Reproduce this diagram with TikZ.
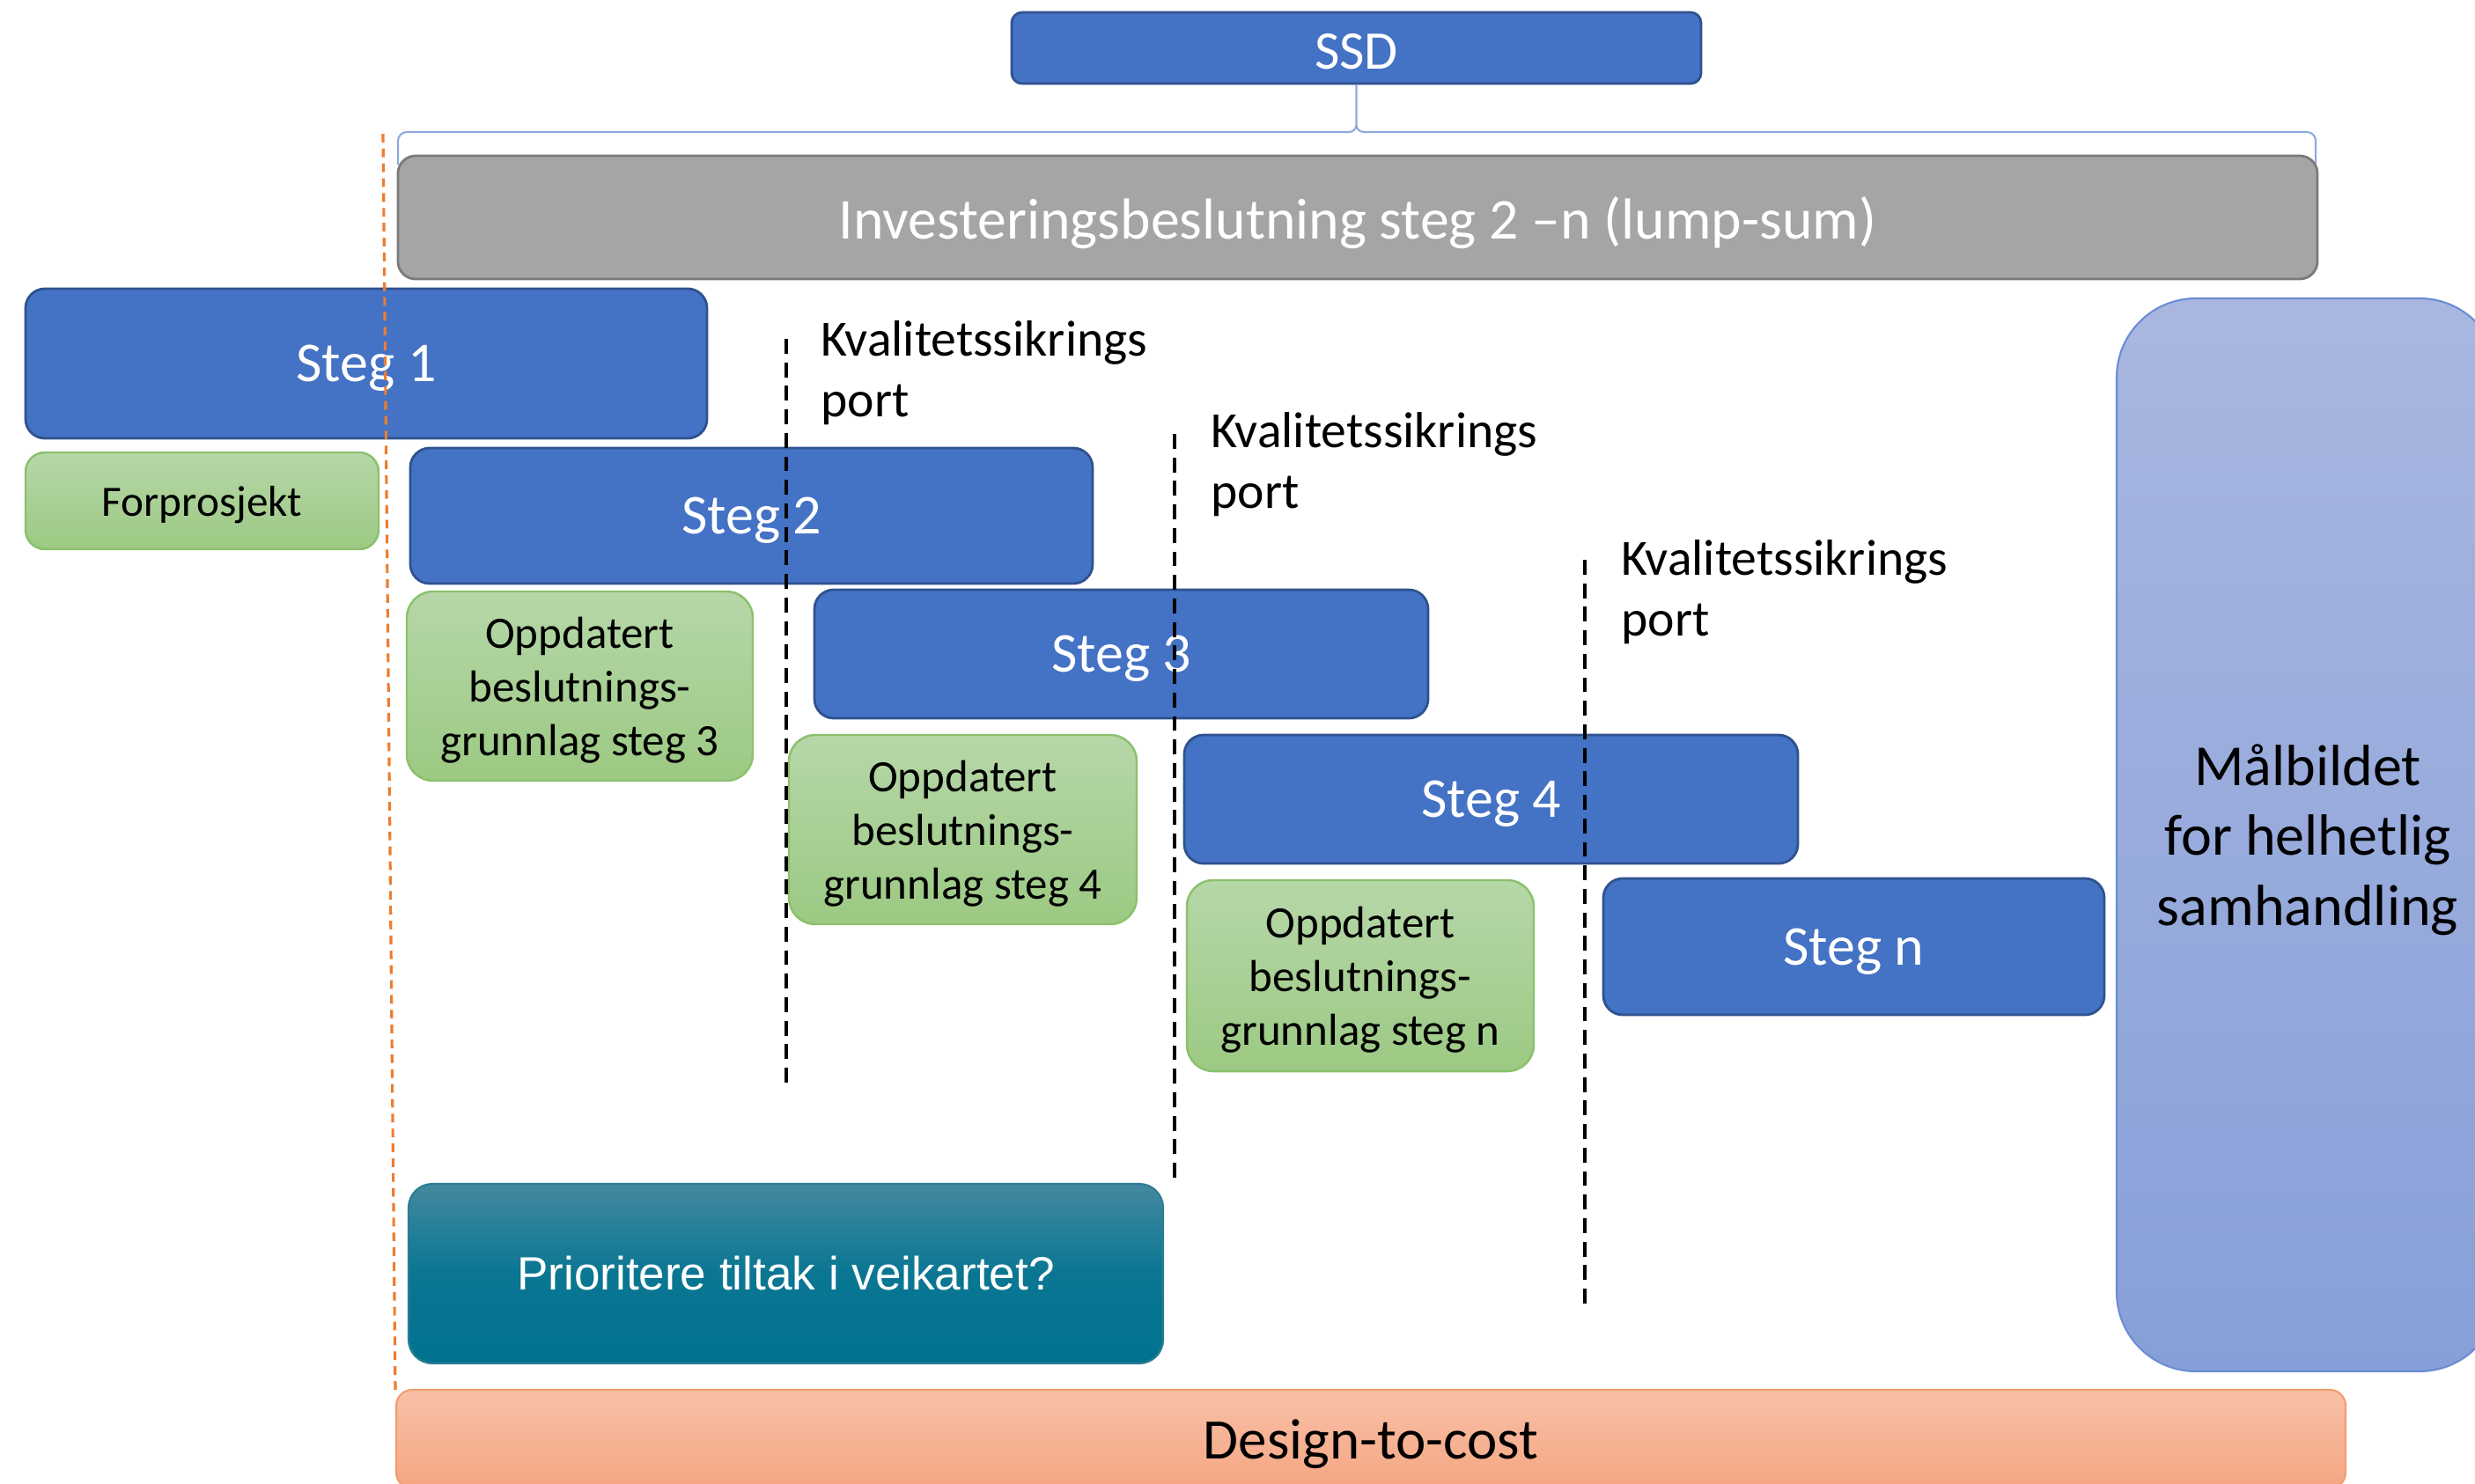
\documentclass[tikz,border=0pt]{standalone}
\usepackage{fontspec}
\setmainfont{Carlito}
\newfontfamily\arialfont{Liberation Sans}
\definecolor{stegblue}{HTML}{4472C4}
\definecolor{stegedge}{HTML}{2F528F}
\definecolor{greyfill}{HTML}{A5A5A5}
\definecolor{greyedge}{HTML}{7A7A7A}
\definecolor{greentop}{HTML}{B6D7A8}
\definecolor{greenbot}{HTML}{9CC983}
\definecolor{greenedge}{HTML}{8BC16C}
\definecolor{maltop}{HTML}{A9B7E0}
\definecolor{malbot}{HTML}{879FD8}
\definecolor{maledge}{HTML}{6A8DD2}
\definecolor{tealtop}{HTML}{43899F}
\definecolor{tealbot}{HTML}{007390}
\definecolor{tealedge}{HTML}{2C7C93}
\definecolor{costtop}{HTML}{F8C0A7}
\definecolor{costbot}{HTML}{F5A682}
\definecolor{costedge}{HTML}{F19D6E}
\definecolor{bracecol}{HTML}{8FAADC}
\definecolor{orangeline}{HTML}{ED7D31}
\begin{document}
\begin{tikzpicture}[
  stegbox/.style={draw=stegedge, fill=stegblue, line width=0.8pt,
    rounded corners=0.22cm, text=white, inner sep=0pt, text depth=0pt,
    font=\fontsize{18.2}{22}\selectfont},
  greenbox/.style={draw=greenedge, top color=greentop, bottom color=greenbot,
    line width=0.7pt, rounded corners=0.3cm, align=center, inner sep=0pt,
    text depth=0pt, font=\fontsize{14.5}{17.4}\selectfont},
  portlabel/.style={anchor=west, align=left, inner sep=0pt, text depth=0pt,
    font=\fontsize{16.4}{19.9}\selectfont},
  portline/.style={black, line width=1pt, dash pattern=on 4.8pt off 2.8pt},
  bracepath/.style={draw=bracecol, line width=0.6pt},
]
\useasboundingbox (0,0) rectangle (28.11,-16.85);

% Top decision boxes
\node[stegbox, minimum width=7.83cm, minimum height=0.81cm, rounded corners=0.12cm,
  text height=13.5pt, font=\fontsize{17.6}{21}\selectfont] (ssd) at (15.405,-0.545) {SSD};

\coordinate (brL) at (4.52,-1.87);
\coordinate (brR) at (26.30,-1.87);
\draw[bracepath] (brL) -- (4.52,-1.60) to[out=90,in=180] (4.62,-1.50)
  -- (15.32,-1.50) to[out=0,in=-90] (15.405,-1.42) -- (ssd.south)
  (15.405,-1.42) to[out=-90,in=180] (15.49,-1.50)
  -- (26.20,-1.50) to[out=0,in=90] (26.30,-1.60) -- (brR);

\node[draw=greyedge, fill=greyfill, line width=0.8pt, rounded corners=0.2cm,
  minimum width=21.80cm, minimum height=1.40cm, inner sep=0pt, text=white,
  text depth=0pt, font=\fontsize{18.7}{22}\selectfont] (invest) at (15.42,-2.47)
  {Investeringsbeslutning steg 2 –n (lump-sum)};

% Steps and their decision bases
\node[stegbox, minimum width=7.74cm, minimum height=1.70cm] (s1) at (4.16,-4.13) {Steg 1};
\node[greenbox, minimum width=4.01cm, minimum height=1.10cm, rounded corners=0.22cm,
  font=\fontsize{14}{17}\selectfont] (forp) at (2.295,-5.69) {Forprosjekt};

\node[stegbox, minimum width=7.75cm, minimum height=1.54cm] (s2) at (8.535,-5.86) {Steg 2};
\node[greenbox, minimum width=3.93cm, minimum height=2.15cm] (g3) at (6.585,-7.795)
  {Oppdatert\\beslutnings-\\grunnlag steg 3};

\node[stegbox, minimum width=6.97cm, minimum height=1.46cm] (s3) at (12.735,-7.43) {Steg 3};
\node[greenbox, minimum width=3.95cm, minimum height=2.15cm] (g4) at (10.935,-9.425)
  {Oppdatert\\beslutnings-\\grunnlag steg 4};

\node[stegbox, minimum width=6.97cm, minimum height=1.46cm] (s4) at (16.935,-9.08) {Steg 4};
\node[greenbox, minimum width=3.94cm, minimum height=2.17cm] (gn) at (15.45,-11.085)
  {Oppdatert\\beslutnings-\\grunnlag steg n};

\node[stegbox, minimum width=5.69cm, minimum height=1.55cm] (sn) at (21.055,-10.755) {Steg n};

% Target picture
\node[draw=maledge, top color=maltop, bottom color=malbot, line width=0.6pt,
  rounded corners=0.9cm, minimum width=4.34cm, minimum height=12.19cm,
  inner sep=0pt, align=center, text depth=0pt,
  font=\fontsize{18.8}{22.5}\selectfont] (mal)
  at (26.21,-9.485) {Målbildet\\for helhetlig\\samhandling};

% Roadmap question
\node[draw=tealedge, top color=tealtop, bottom color=tealbot, middle color=tealbot!85!tealtop,
  line width=0.6pt, rounded corners=0.27cm, minimum width=8.57cm, minimum height=2.04cm,
  inner sep=0pt, text=white, font=\arialfont\fontsize{15.1}{18}\selectfont] (prio)
  at (8.925,-14.47) {Prioritere tiltak i veikartet?};

% Cost frame
\node[draw=costedge, top color=costtop, bottom color=costbot, line width=0.6pt,
  rounded corners=0.18cm, minimum width=22.14cm, minimum height=1.12cm,
  inner sep=0pt, text depth=0pt, font=\fontsize{18.5}{22}\selectfont] (cost)
  at (15.57,-16.35) {Design-to-cost};

% Quality assurance gates
\coordinate (q1t) at (8.93,-3.85);  \coordinate (q1b) at (8.93,-12.37);
\coordinate (q2t) at (13.34,-4.93); \coordinate (q2b) at (13.34,-13.41);
\coordinate (q3t) at (18.00,-6.36); \coordinate (q3b) at (18.00,-14.84);
\draw[portline] (q1t) -- (q1b);
\draw[portline] (q2t) -- (q2b);
\draw[portline] (q3t) -- (q3b);
\node[portlabel] (k1) at (9.32,-4.19) {Kvalitetssikrings\\port};
\node[portlabel] (k2) at (13.75,-5.23) {Kvalitetssikrings\\port};
\node[portlabel] (k3) at (18.41,-6.68) {Kvalitetssikrings\\port};

% Start line
\coordinate (ot) at (4.35,-1.52);
\coordinate (ob) at (4.49,-15.80);
\draw[orangeline, line width=0.9pt, dash pattern=on 2.8pt off 2pt] (ot) -- (ob);
\end{tikzpicture}
\end{document}
